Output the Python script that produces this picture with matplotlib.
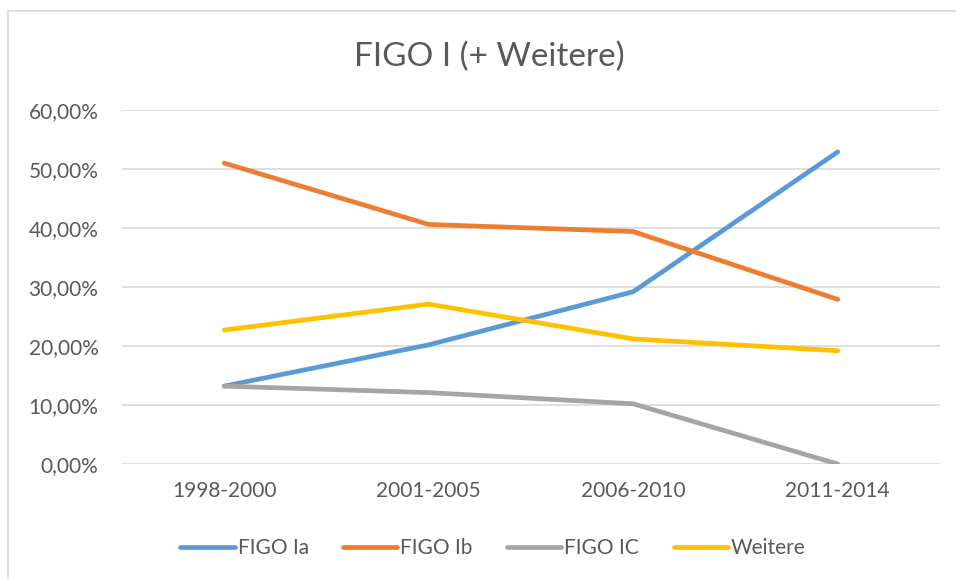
import matplotlib
matplotlib.use("Agg")
import matplotlib.pyplot as plt
from matplotlib.patches import Rectangle

plt.rcParams['font.family'] = ['Lato', 'DejaVu Sans']

categories = ["1998-2000", "2001-2005", "2006-2010", "2011-2014"]
figo_ia = [13.2, 20.2, 29.2, 52.9]
figo_ib = [51.0, 40.6, 39.4, 27.9]
figo_ic = [13.2, 12.1, 10.2, 0.0]
weitere = [22.7, 27.1, 21.2, 19.2]
series_names = ["FIGO Ia", "FIGO Ib", "FIGO IC", "Weitere"]
colors = ["#5B9BD5", "#ED7D31", "#A5A5A5", "#FFC000"]
yticks = [0, 10, 20, 30, 40, 50, 60]

W, H = 956, 579
fig = plt.figure(figsize=(W / 100, H / 100), dpi=100)
fig.patch.set_facecolor("white")

# chart border
fig.patches.append(Rectangle((8 / W, -0.1), 1.2, 1 - 11 / H + 0.1, transform=fig.transFigure,
                             fill=False, edgecolor="#d9d9d9", linewidth=1.2))

left, right, top, bottom = 122, 940, 110, 464
ax = fig.add_axes([left / W, 1 - bottom / H, (right - left) / W, (bottom - top) / H])

x = list(range(len(categories)))
for vals, name, c in zip([figo_ia, figo_ib, figo_ic, weitere], series_names, colors):
    ax.plot(x, vals, color=c, linewidth=3.4, solid_capstyle="round", solid_joinstyle="round",
            label=name, zorder=3)

ax.set_xlim(-0.5, len(categories) - 0.5)
ax.set_ylim(0, 60)
ax.set_yticks(yticks)
ax.set_yticklabels([f"{v:.2f}".replace(".", ",") + "%" for v in yticks])
ax.set_xticks(x)
ax.set_xticklabels(categories)
ax.grid(axis="y", color="#d9d9d9", linewidth=1.2, zorder=0)
ax.tick_params(length=0, colors="#595959", labelsize=15)
ax.tick_params(axis="y", pad=17)
ax.tick_params(axis="x", pad=12)
for s in ax.spines.values():
    s.set_visible(False)
ax.set_axisbelow(True)

fig.text(489 / W, 1 - 57 / H, "FIGO I (+ Weitere)", ha="center", va="center",
         fontsize=24, color="#595959")

leg = fig.legend(loc="center", bbox_to_anchor=(493 / W, 1 - 548 / H), ncol=4, frameon=False,
                 fontsize=15, handlelength=2.6, columnspacing=1.65, handletextpad=0.15)
for t in leg.get_texts():
    t.set_color("#595959")

fig.savefig("out.png", dpi=100, facecolor="white")
